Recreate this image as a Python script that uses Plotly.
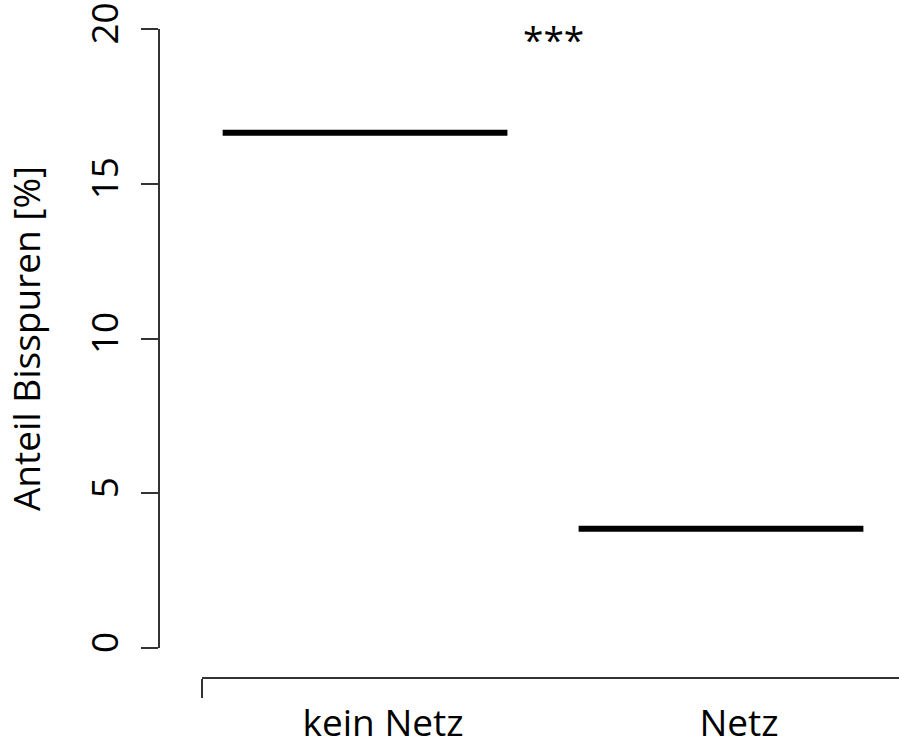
import plotly.graph_objects as go

# Data
categories = ["kein Netz", "Netz"]
positions = [1, 2]
values = [16.65, 3.85]
half_width = 0.4
y_ticks = [0, 5, 10, 15, 20]
y_tick_labels = ["0", "5", "10", "15", "20"]
signif_label = "***"
y_title = "Anteil Bisspuren [%]"

FONT = "Open Sans, Noto Sans, DejaVu Sans, sans-serif"
FS = 37
AX = "#333333"

W, H = 899, 748
x_range = [0.542, 2.5]

fig = go.Figure()
for pos, val, name in zip(positions, values, categories):
    fig.add_trace(go.Scatter(
        x=[pos - half_width, pos + half_width], y=[val, val],
        mode="lines", line=dict(color="black", width=6),
        name=name, showlegend=False, hoverinfo="skip",
        xaxis="x", yaxis="y",
    ))

# dummy trace for the secondary x axis (left tick only)
fig.add_trace(go.Scatter(x=[x_range[0]], y=[None], xaxis="x2", yaxis="y",
                         showlegend=False, hoverinfo="skip", mode="markers"))

fig.add_annotation(
    x=(positions[0] + positions[1]) / 2, y=19.7, xref="x", yref="y",
    text=signif_label, showarrow=False, xshift=10,
    font=dict(family=FONT, size=FS, color="black"),
)

x_dom = [202 / W, 1.0]
y_dom = [(H - 648) / H, (H - 29) / H]
x_pos = (H - 678) / H
y_pos = 159 / W

fig.update_layout(
    width=W, height=H,
    margin=dict(l=0, r=0, t=0, b=0, pad=0),
    paper_bgcolor="white", plot_bgcolor="white",
    font=dict(family=FONT, size=FS, color="black"),
    xaxis=dict(
        domain=x_dom, range=x_range, anchor="free", position=x_pos,
        showline=True, linecolor=AX, linewidth=2,
        showgrid=False, zeroline=False,
        tickmode="array", tickvals=positions, ticktext=categories,
        ticks="", ticklabelshift=18, ticklabelstandoff=13,
        tickfont=dict(family=FONT, size=FS, color="black"),
        automargin=False, fixedrange=True,
    ),
    xaxis2=dict(
        domain=x_dom, range=x_range, anchor="free", position=x_pos,
        overlaying="x", showline=False, showgrid=False, zeroline=False,
        tickmode="array", tickvals=[x_range[0]], ticktext=[""],
        ticks="outside", ticklen=19, tickwidth=2, tickcolor=AX,
        showticklabels=False, automargin=False, fixedrange=True,
    ),
    yaxis=dict(
        domain=y_dom, range=[0, 20], anchor="free", position=y_pos,
        showline=True, linecolor=AX, linewidth=2,
        showgrid=False, zeroline=False,
        tickmode="array", tickvals=y_ticks, ticktext=y_tick_labels,
        ticks="outside", ticklen=17, tickwidth=2, tickcolor=AX,
        tickangle=-90, ticklabelstandoff=8,
        tickfont=dict(family=FONT, size=FS, color="black"),
        title=dict(text=y_title, font=dict(family=FONT, size=FS, color="black"), standoff=40),
        automargin=False, fixedrange=True,
    ),
)

fig.write_html("out.html", config={"displayModeBar": False},
               post_script="document.body.style.margin='0';document.body.style.overflow='hidden';")
